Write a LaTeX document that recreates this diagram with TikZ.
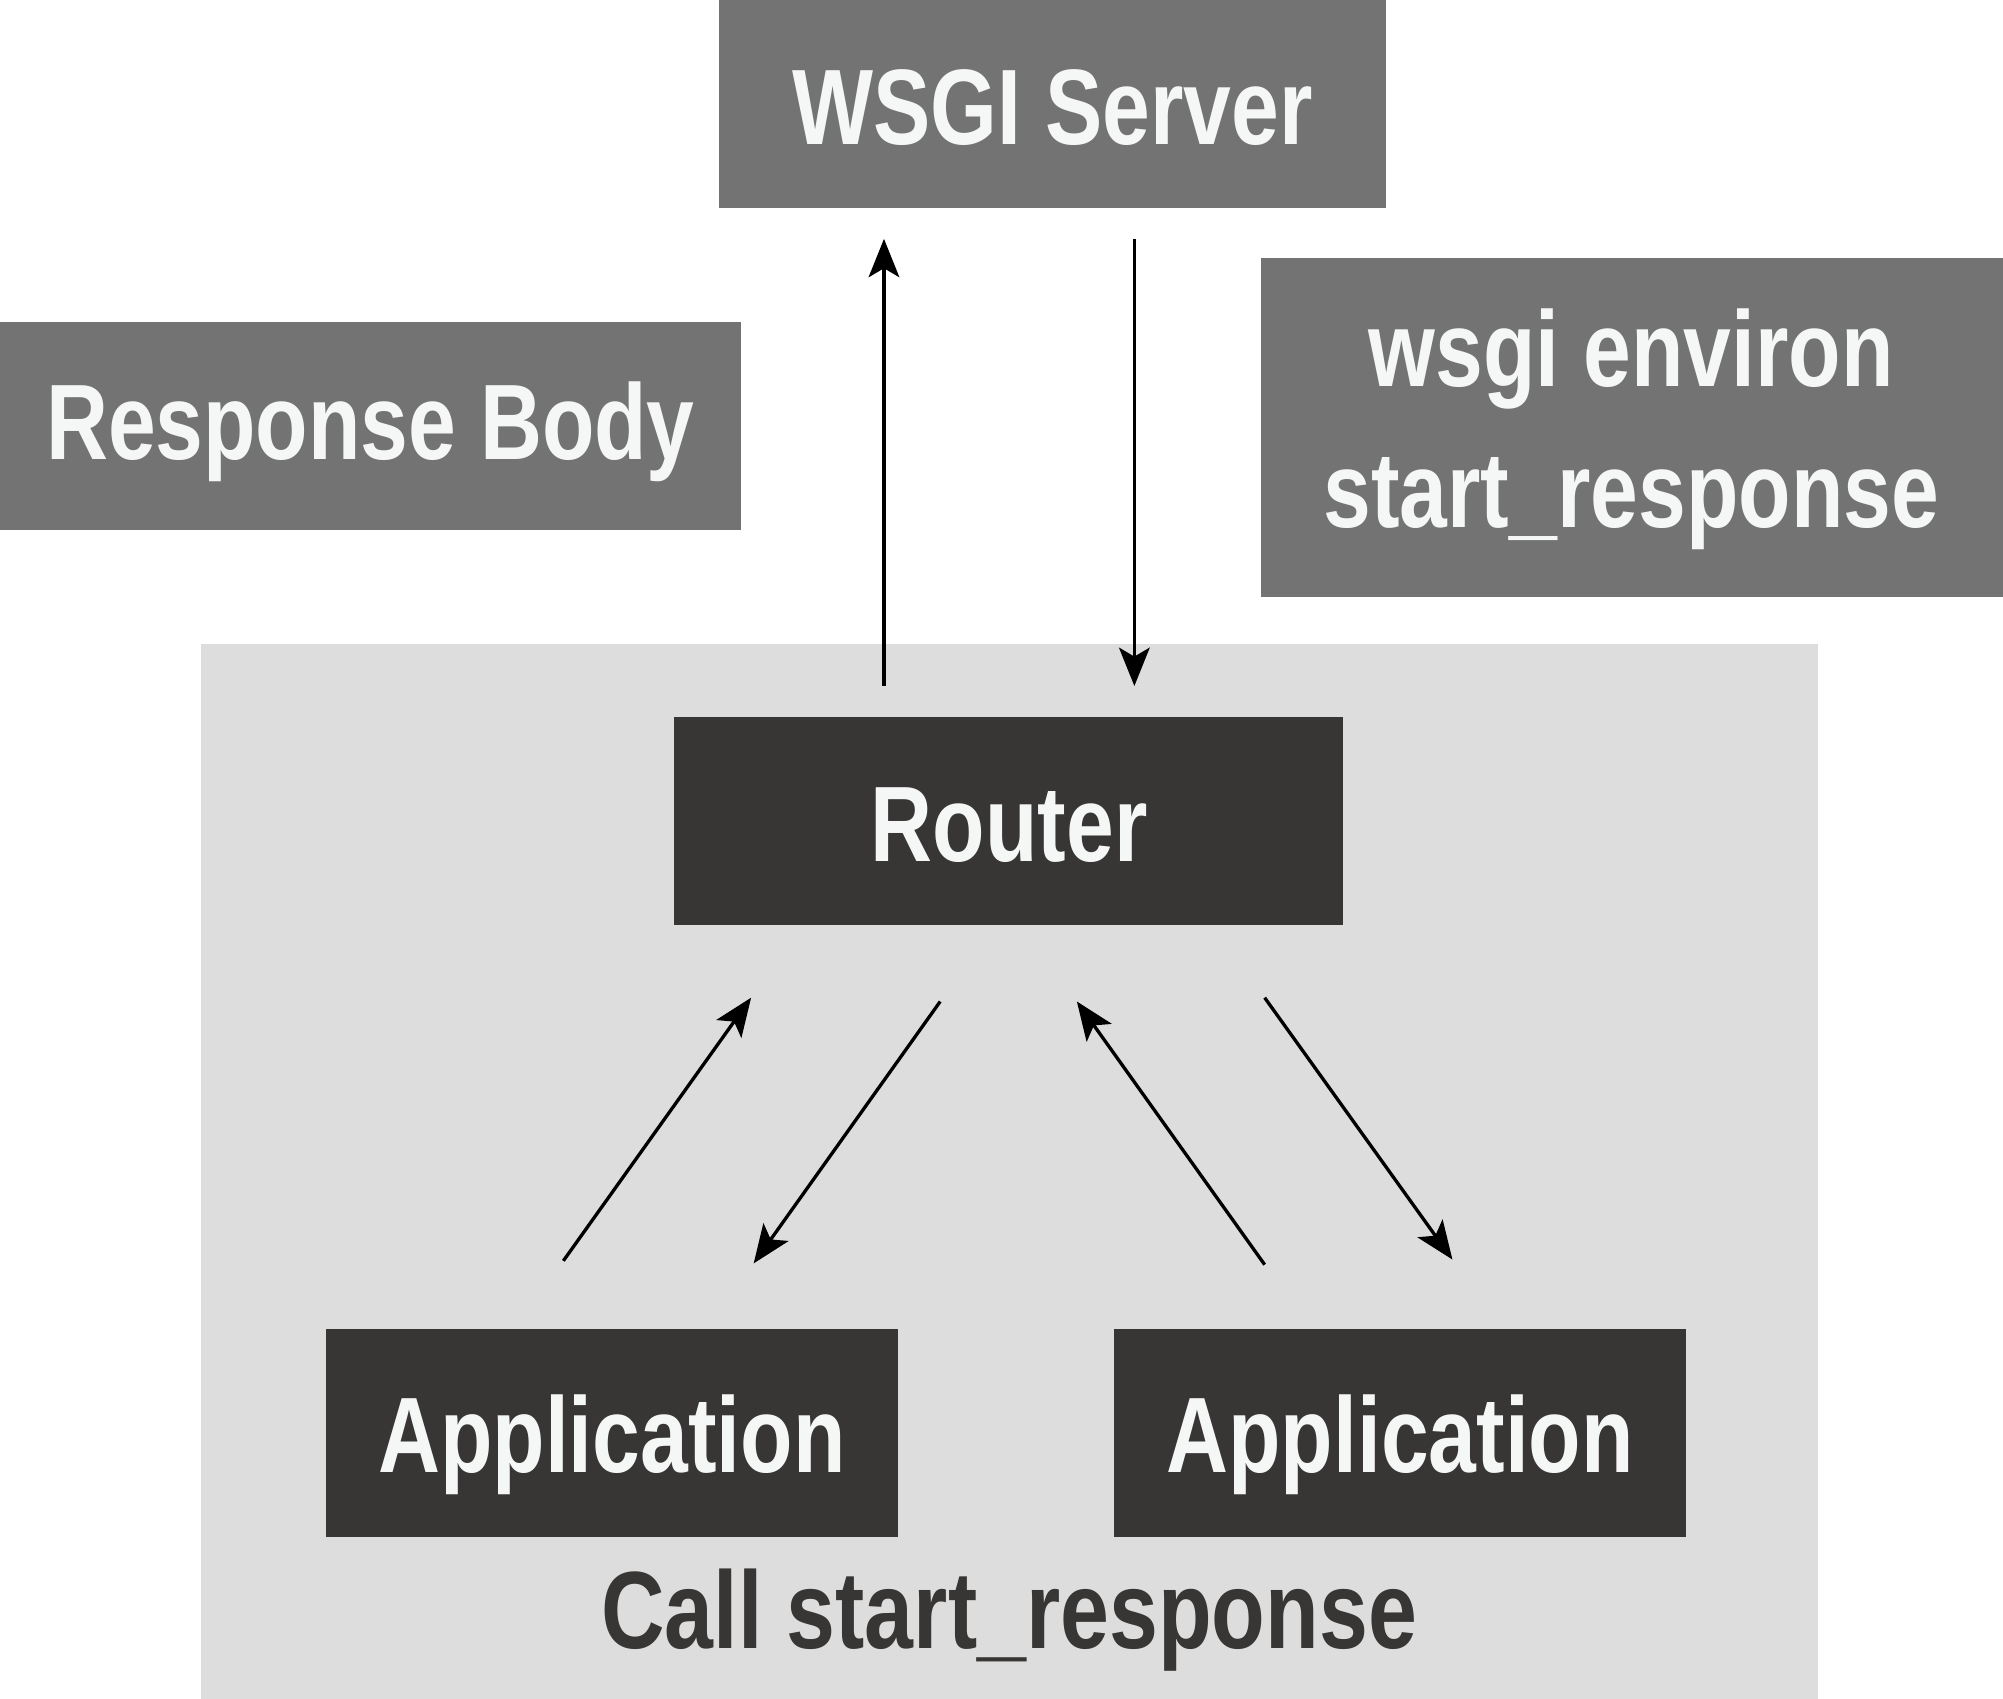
\documentclass[tikz,border=0pt]{standalone}
\usepackage{fontspec}
\setmainfont{Liberation Sans}[FakeStretch=0.8,BoldFont={Liberation Sans Bold},BoldFeatures={FakeStretch=0.8}]
\usetikzlibrary{arrows.meta}
\definecolor{midgrey}{HTML}{737373}
\definecolor{darkbox}{HTML}{383634}
\definecolor{bggrey}{HTML}{DCDDDC}
\definecolor{txtwhite}{HTML}{F5F7F6}
\tikzset{
  lbl/.style={font=\fontsize{84}{110}\selectfont\bfseries, text=txtwhite, align=center},
  arr/.style={line width=2.6pt, -{Stealth[length=30pt,width=24pt,inset=7pt]}},
}
\begin{document}
\begin{tikzpicture}[x=1pt,y=-1pt]
\useasboundingbox (0,0) rectangle (1568,1330);
\fill[white] (0,0) rectangle (1568,1330);
% background panel
\fill[bggrey] (157,504) rectangle (1423,1330);
% boxes
\fill[midgrey] (563,0) rectangle (1085,163);
\node[lbl] (wsgi) at (824,84) {WSGI Server};
\fill[midgrey] (0,252) rectangle (580,415);
\node[lbl] (body) at (290,338) {Response Body};
\fill[midgrey] (987,202) rectangle (1568,467);
\node[lbl] (env) at (1277,336) {wsgi environ\\start\_response};
\fill[darkbox] (528,561) rectangle (1051,724);
\node[lbl] (router) at (790,646) {Router};
\fill[darkbox] (255,1040) rectangle (703,1203);
\node[lbl] (app1) at (479,1131) {Application};
\fill[darkbox] (872,1040) rectangle (1320,1203);
\node[lbl] (app2) at (1096,1131) {Application};
\node[font=\fontsize{86}{100}\selectfont\bfseries, text=darkbox] (call) at (790,1268) {Call start\_response};
% arrow endpoints
\coordinate (u1) at (692,537); \coordinate (u2) at (692,187);
\coordinate (d1) at (888,187); \coordinate (d2) at (888,537);
\coordinate (a1) at (441,987); \coordinate (a2) at (588,781);
\coordinate (b1) at (736,784); \coordinate (b2) at (590,989);
\coordinate (c1) at (990,990); \coordinate (c2) at (843,784);
\coordinate (e1) at (990,781); \coordinate (e2) at (1137,986);
\draw[arr] (u1) -- (u2);
\draw[arr] (d1) -- (d2);
\draw[arr] (a1) -- (a2);
\draw[arr] (b1) -- (b2);
\draw[arr] (c1) -- (c2);
\draw[arr] (e1) -- (e2);
\end{tikzpicture}
\end{document}
